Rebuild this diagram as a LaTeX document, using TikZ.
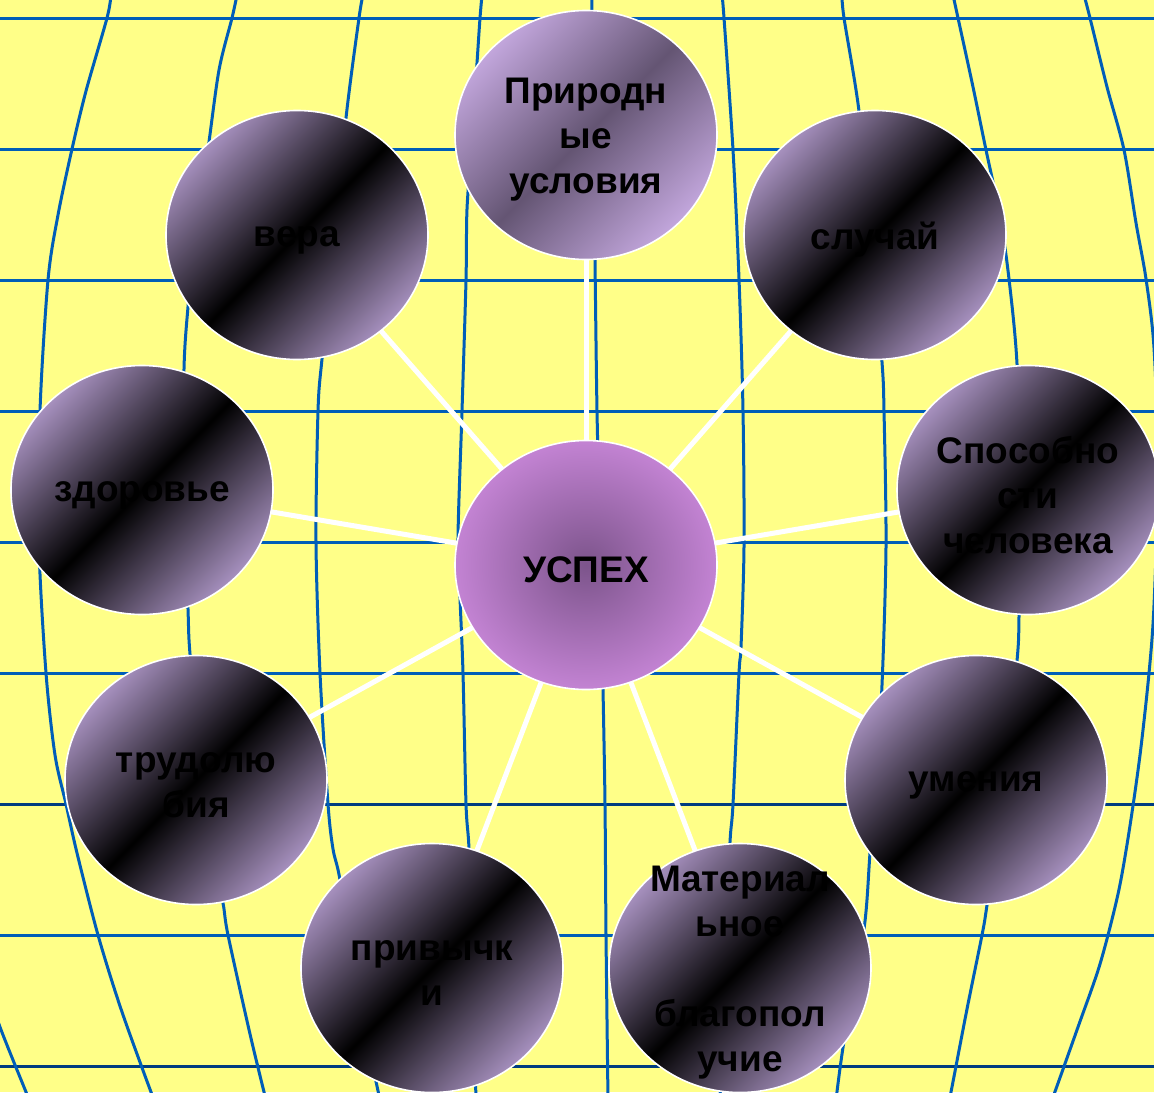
\documentclass[tikz,border=0pt]{standalone}
\usepackage{fontspec}
\setmainfont{Liberation Sans}
\usetikzlibrary{shapes.geometric}

\definecolor{paper}{HTML}{FFFF88}
\definecolor{gridblue}{HTML}{005EB8}
\definecolor{gridnavy}{HTML}{003C80}
\definecolor{lilac}{HTML}{A690BE}
\definecolor{lilacpale}{HTML}{C2A6DC}
\definecolor{plum}{HTML}{645573}
\definecolor{orchid}{HTML}{C383D3}
\definecolor{orchiddark}{HTML}{7C548B}

\pgfdeclarelayer{back}
\pgfdeclarelayer{spokes}
\pgfsetlayers{back,spokes,main}

\begin{document}
\begin{tikzpicture}[x=0.5pt, y=-0.5pt,
    ball/.style={ellipse, draw=white, line width=0.8pt, minimum width=131pt,
                 minimum height=124.5pt, inner sep=0pt},
    dark/.style={ball, top color=lilac, bottom color=lilac, middle color=black, shading angle=45},
    pale/.style={ball, top color=lilacpale, bottom color=lilacpale, middle color=plum, shading angle=45},
    core/.style={ball, shading=radial, inner color=orchiddark, outer color=orchid},
    word/.style={font=\fontsize{18.5}{22.5}\selectfont\bfseries, align=center, text=black, yshift=-2.5pt},
    spoke/.style={white, line width=2.5pt},
    vline/.style={gridblue, line width=1.5pt},
    hline/.style={gridblue, line width=1.5pt}
]
\useasboundingbox (0,0) rectangle (1154,1092);

% paper and distorted grid
\begin{pgfonlayer}{back}
\fill[paper] (0,0) rectangle (1154,1092);
\begin{scope}
\clip (0,0) rectangle (1154,1092);
\foreach \y in {18,149,280,411,542,673,935}
    \draw[hline] (0,\y) -- (1154,\y);
\foreach \y in {804,1066}
    \draw[hline, gridnavy] (0,\y) -- (1154,\y);
\draw[vline] plot[smooth] coordinates {(-15,980) (0,1027) (26,1092) (33,1110)};
\draw[vline] plot[smooth] coordinates {(111,-5) (107,18) (86,91) (72,149) (58,215) (48,280) (40,411)
    (39,546) (46,673) (55,755) (66,804) (77,853) (98,935) (121,1009) (151,1092) (155,1100)};
\draw[vline] plot[smooth] coordinates {(237,-5) (232,18) (219,70) (208,149) (196,230) (188,307) (184,369)
    (184,480) (188,609) (190,654) (200,760) (212,850) (223,903) (228,935) (250,1034) (266,1100)};
\draw[vline] plot[smooth] coordinates {(363,-5) (359,18) (346,118) (335,240) (322,359) (318,411) (316,542)
    (320,673) (328,804) (333,849) (340,880) (355,980) (380,1100)};
\draw[vline] plot[smooth] coordinates {(482,-5) (480,18) (477,63) (472,140) (467,209) (466,280) (462,411)
    (458,537) (460,598) (463,673) (466,804) (469,849) (472,950) (476,1100)};
\draw[vline] plot[smooth] coordinates {(592,-5) (592,18) (595,261) (597,411) (600,541) (603,689) (605,804)
    (606,935) (608,1100)};
\draw[vline] plot[smooth] coordinates {(722,-5) (724,18) (733,150) (739,279) (743,411) (744,546) (741,647)
    (739,673) (733,804) (730,842) (725,950) (720,1100)};
\draw[vline] plot[smooth] coordinates {(842,-5) (844,18) (859,111) (872,240) (882,362) (884,411) (886,546)
    (882,685) (876,780) (870,853) (864,929) (844,1041) (836,1100)};
\draw[vline] plot[smooth] coordinates {(953,-5) (958,18) (973,87) (986,150) (1000,216) (1009,279) (1017,364)
    (1020,490) (1019,616) (1017,661) (1005,780) (987,905) (982,935) (967,1009) (951,1092) (949,1100)};
\draw[vline] plot[smooth] coordinates {(1084,-5) (1090,18) (1107,87) (1124,150) (1136,223) (1146,279) (1154,348)
    (1158,470) (1154,605) (1149,673) (1140,755) (1129,832) (1118,894) (1100,964) (1078,1027) (1052,1100)};
\end{scope}
\end{pgfonlayer}

% balls
\node[core] (uspekh)    at (586,565) {};
\node[pale] (priroda)   at (586,135) {};
\node[dark] (vera)      at (297,235) {};
\node[dark] (sluchai)   at (875,235) {};
\node[dark] (zdorove)   at (142,490) {};
\node[dark] (sposob)    at (1028,490) {};
\node[dark] (trud)      at (196,780) {};
\node[dark] (umenia)    at (976,780) {};
\node[dark] (privychki) at (432,968) {};
\node[dark] (material)  at (740,968) {};

% texts
\node[word] (uspekh-t)    at (uspekh)    {УСПЕХ};
\node[word] (priroda-t)   at (priroda)   {Природн\\ые\\условия};
\node[word] (vera-t)      at (vera)      {вера};
\node[word] (sluchai-t)   at (sluchai)   {случай};
\node[word] (zdorove-t)   at (zdorove)   {здоровье};
\node[word] (sposob-t)    at (sposob)    {Способно\\сти\\человека};
\node[word] (trud-t)      at (trud)      {трудолю\\бия};
\node[word] (umenia-t)    at (umenia)    {умения};
\node[word] (privychki-t) at (privychki) {привычк\\и};
\node[word] (material-t)  at (material)  {Материал\\ьное\\\strut\\благопол\\учие};

% spokes behind the balls
\begin{pgfonlayer}{spokes}
\foreach \n in {priroda,vera,sluchai,zdorove,sposob,trud,umenia,privychki,material}
    \draw[spoke] (uspekh.center) -- (\n.center);
\end{pgfonlayer}
\end{tikzpicture}
\end{document}
